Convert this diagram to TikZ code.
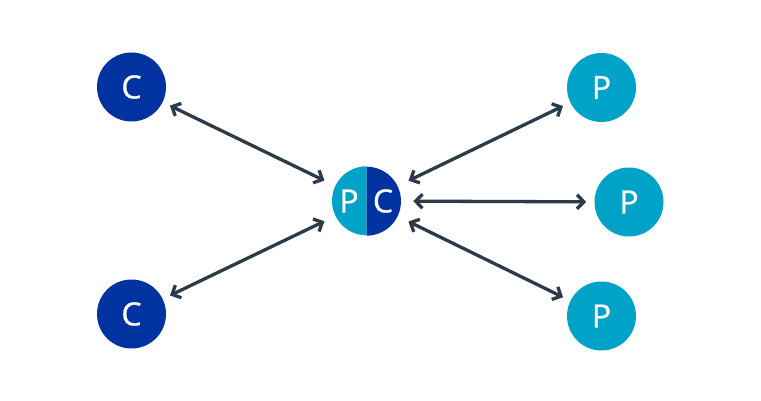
\documentclass[tikz,border=0pt]{standalone}
\usepackage{fontspec}
\setmainfont{Open Sans}
\newfontfamily\lblfont[FakeBold=0.8]{Open Sans}
\usetikzlibrary{arrows.meta}
\definecolor{cdark}{HTML}{0033A0}
\definecolor{plight}{HTML}{00A3C7}
\definecolor{arr}{HTML}{2D3A47}
\begin{document}
\begin{tikzpicture}[x=1pt,y=-1pt,
  lbl/.style={text=white,font=\lblfont\fontsize{32}{33}\selectfont},
  cnode/.style={circle,fill=cdark,minimum size=69pt,inner sep=0pt,lbl},
  pnode/.style={circle,fill=plight,minimum size=69pt,inner sep=0pt,lbl},
  tip/.tip={Straight Barb[length=7pt,width=14pt,line width=3.3pt]},
  link/.style={arr,line width=3.3pt,tip-tip, shorten <=12pt, shorten >=8pt}
]
\useasboundingbox (0,0) rectangle (761,401);
\node[cnode] (c1) at (131.5,87) {C};
\node[cnode] (c2) at (131.5,314) {C};
\node[pnode] (p1) at (601.5,87.5) {P};
\node[pnode] (p2) at (629,202) {P};
\node[pnode] (p3) at (601.5,316) {P};
% center split node
\node[circle,minimum size=69pt,inner sep=0pt] (pc) at (366.5,201) {};
\fill[plight] (pc.north) arc[start angle=90,end angle=270,radius=34.5pt] -- cycle;
\fill[cdark] (pc.south) arc[start angle=-90,end angle=90,radius=34.5pt] -- cycle;
\node[lbl] (pl) at (349,201) {P};
\node[lbl] (cl) at (383,201) {C};
\draw[link] (pc) -- (c1);
\draw[link] (pc) -- (c2);
\draw[link] (pc) -- (p1);
\draw[link] (pc) -- (p2);
\draw[link] (pc) -- (p3);
\end{tikzpicture}
\end{document}
